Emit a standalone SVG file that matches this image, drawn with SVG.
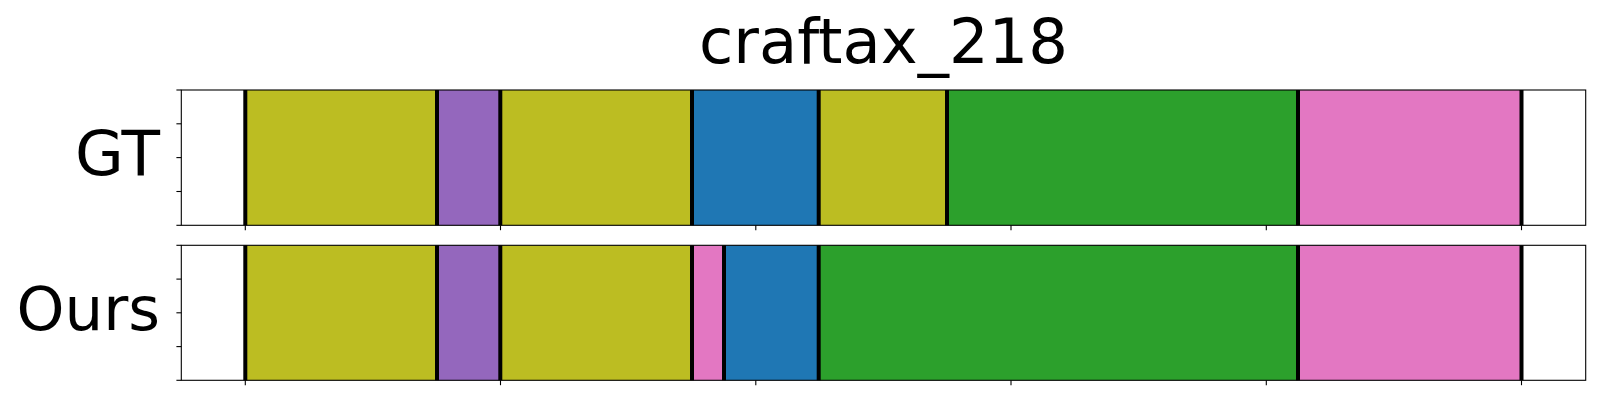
<svg xmlns="http://www.w3.org/2000/svg" width="1600" height="400" viewBox="0 0 1600 400">
<style>
  .t { font-family: "DejaVu Sans", "Liberation Sans", sans-serif; fill: #000; }
  .ol { fill: #bcbd22; }
  .pu { fill: #9467bd; }
  .bl { fill: #1f77b4; }
  .gr { fill: #2ca02c; }
  .pk { fill: #e377c2; }
  .bd { stroke: #000; stroke-width: 4; }
  .ax { fill: none; stroke: #000; stroke-width: 1.1; }
  .tk { stroke: #000; stroke-width: 1.1; }
</style>
<rect width="1600" height="400" fill="#fff"/>
<text class="t" x="883.5" y="63.3" font-size="62.4" text-anchor="middle">craftax_218</text>

<g id="gt">
  <text class="t" x="160" y="175" font-size="63" text-anchor="end">GT</text>
  <rect class="ol" x="245.3" y="90" width="191.7" height="135.3"/>
  <rect class="pu" x="437" y="90" width="63.3" height="135.3"/>
  <rect class="ol" x="500.3" y="90" width="191.7" height="135.3"/>
  <rect class="bl" x="692" y="90" width="126.7" height="135.3"/>
  <rect class="ol" x="818.7" y="90" width="128.3" height="135.3"/>
  <rect class="gr" x="947" y="90" width="351" height="135.3"/>
  <rect class="pk" x="1298" y="90" width="223.5" height="135.3"/>
  <g class="bd">
    <line x1="245.3" y1="90" x2="245.3" y2="225.3"/>
    <line x1="437" y1="90" x2="437" y2="225.3"/>
    <line x1="500.3" y1="90" x2="500.3" y2="225.3"/>
    <line x1="692" y1="90" x2="692" y2="225.3"/>
    <line x1="818.7" y1="90" x2="818.7" y2="225.3"/>
    <line x1="947" y1="90" x2="947" y2="225.3"/>
    <line x1="1298" y1="90" x2="1298" y2="225.3"/>
    <line x1="1521.5" y1="90" x2="1521.5" y2="225.3"/>
  </g>
  <rect class="ax" x="181.3" y="90" width="1404.4" height="135.3"/>
  <g class="tk">
    <line x1="176.4" y1="90" x2="181.3" y2="90"/>
    <line x1="176.4" y1="123.8" x2="181.3" y2="123.8"/>
    <line x1="176.4" y1="157.6" x2="181.3" y2="157.6"/>
    <line x1="176.4" y1="191.5" x2="181.3" y2="191.5"/>
    <line x1="176.4" y1="225.3" x2="181.3" y2="225.3"/>
    <line x1="245.3" y1="225.3" x2="245.3" y2="230.2"/>
    <line x1="500.5" y1="225.3" x2="500.5" y2="230.2"/>
    <line x1="755.8" y1="225.3" x2="755.8" y2="230.2"/>
    <line x1="1011" y1="225.3" x2="1011" y2="230.2"/>
    <line x1="1266.3" y1="225.3" x2="1266.3" y2="230.2"/>
    <line x1="1521.5" y1="225.3" x2="1521.5" y2="230.2"/>
  </g>
</g>

<g id="ours">
  <text class="t" x="160" y="329.5" font-size="61" text-anchor="end">Ours</text>
  <rect class="ol" x="245.3" y="245.3" width="191.7" height="135"/>
  <rect class="pu" x="437" y="245.3" width="63.3" height="135"/>
  <rect class="ol" x="500.3" y="245.3" width="191.7" height="135"/>
  <rect class="pk" x="692" y="245.3" width="32" height="135"/>
  <rect class="bl" x="724" y="245.3" width="94.7" height="135"/>
  <rect class="gr" x="818.7" y="245.3" width="479.3" height="135"/>
  <rect class="pk" x="1298" y="245.3" width="223.5" height="135"/>
  <g class="bd">
    <line x1="245.3" y1="245.3" x2="245.3" y2="380.3"/>
    <line x1="437" y1="245.3" x2="437" y2="380.3"/>
    <line x1="500.3" y1="245.3" x2="500.3" y2="380.3"/>
    <line x1="692" y1="245.3" x2="692" y2="380.3"/>
    <line x1="724" y1="245.3" x2="724" y2="380.3"/>
    <line x1="818.7" y1="245.3" x2="818.7" y2="380.3"/>
    <line x1="1298" y1="245.3" x2="1298" y2="380.3"/>
    <line x1="1521.5" y1="245.3" x2="1521.5" y2="380.3"/>
  </g>
  <rect class="ax" x="181.3" y="245.3" width="1404.4" height="135"/>
  <g class="tk">
    <line x1="176.4" y1="245.3" x2="181.3" y2="245.3"/>
    <line x1="176.4" y1="279.1" x2="181.3" y2="279.1"/>
    <line x1="176.4" y1="312.8" x2="181.3" y2="312.8"/>
    <line x1="176.4" y1="346.6" x2="181.3" y2="346.6"/>
    <line x1="176.4" y1="380.3" x2="181.3" y2="380.3"/>
    <line x1="245.3" y1="380.3" x2="245.3" y2="385.2"/>
    <line x1="500.5" y1="380.3" x2="500.5" y2="385.2"/>
    <line x1="755.8" y1="380.3" x2="755.8" y2="385.2"/>
    <line x1="1011" y1="380.3" x2="1011" y2="385.2"/>
    <line x1="1266.3" y1="380.3" x2="1266.3" y2="385.2"/>
    <line x1="1521.5" y1="380.3" x2="1521.5" y2="385.2"/>
  </g>
</g>
</svg>
